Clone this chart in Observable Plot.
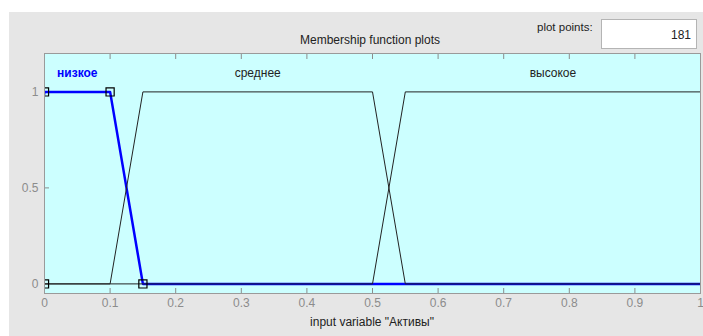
<!DOCTYPE html>
<html><head><meta charset="utf-8">
<script src="https://cdn.jsdelivr.net/npm/d3@7"></script>
<script src="https://cdn.jsdelivr.net/npm/@observablehq/plot@0.6"></script>
<style>
body{margin:0;background:#fff;font-family:"Liberation Sans",Arial,sans-serif;}
#wrap{position:relative;width:703px;height:336px;overflow:hidden;background:#fff;}
#panel{position:absolute;left:9px;top:12px;width:694px;height:324px;background:#e6e6e6;}
#chart{position:absolute;left:0;top:0;}
.t{position:absolute;color:#222;font-size:12px;white-space:nowrap;line-height:1;}
#box{position:absolute;left:601px;top:19px;width:94px;height:28px;background:#fff;border:1px solid #b4b4b4;}
</style></head><body>
<div id="wrap">
  <div id="panel"></div>
  <div id="chart"></div>
  <div class="t" id="title" style="left:370px;top:40px;transform:translate(-50%,-50%);">Membership function plots</div>
  <div class="t" id="pp" style="left:537px;top:28px;transform:translateY(-50%);font-size:11.5px;">plot points:</div>
  <div id="box"><div class="t" id="npts" style="right:5px;top:15px;transform:translateY(-50%);"></div></div>
  <div class="t" id="xlabel" style="left:372px;top:322px;transform:translate(-50%,-50%);"></div>
</div>
<script>
// ---- data ----
const mfNames = ["низкое", "среднее", "высокое"];
const mfA = [-0.05, 0.1, 0.5];
const mfB = [0, 0.15, 0.55];
const mfC = [0.1, 0.5, 1];
const mfD = [0.15, 0.55, 1.05];
const selectedMF = 0;
const xTicks = [0, 0.1, 0.2, 0.3, 0.4, 0.5, 0.6, 0.7, 0.8, 0.9, 1];
const yTicks = [0, 0.5, 1];
const xRange = [0, 1];
const plotPoints = 181;
const varName = "Активы";

document.getElementById("npts").textContent = String(plotPoints);
document.getElementById("xlabel").textContent = `input variable "${varName}"`;

// trapezoid vertex polylines (extended with zero to the range ends)
const lines = [];
const markers = [];
mfNames.forEach((name, i) => {
  const pts = [];
  if (mfA[i] > xRange[0]) pts.push([xRange[0], 0]);
  pts.push([mfA[i], 0], [mfB[i], 1], [mfC[i], 1], [mfD[i], 0]);
  if (mfD[i] < xRange[1]) pts.push([xRange[1], 0]);
  pts.forEach(([x, y]) => lines.push({mf: i, x, y}));
  if (i === selectedMF) {
    [[mfA[i], 0], [mfB[i], 1], [mfC[i], 1], [mfD[i], 0]].forEach(([x, y]) =>
      markers.push({x: Math.max(xRange[0], Math.min(xRange[1], x)), y}));
  }
});
const labels = mfNames.map((name, i) => ({name, i, x: (mfA[i] + mfD[i]) / 2}));

const tickColor = "#8c8c8c";
const chart = Plot.plot({
  width: 703, height: 336,
  marginLeft: 44, marginRight: 3, marginTop: 53, marginBottom: 43,
  x: {domain: xRange},
  y: {domain: [-0.05, 1.2]},
  style: {background: "transparent", fontFamily: "Liberation Sans, Arial, sans-serif", fontSize: "12px"},
  marks: [
    Plot.frame({fill: "#ccffff", stroke: null}),
    Plot.axisX({anchor: "bottom", ticks: xTicks, tickSize: 0, tickPadding: 5, tickFormat: d => String(d), label: null, color: tickColor}),
    Plot.axisX({anchor: "bottom", ticks: xTicks, tickSize: -5, tickFormat: () => "", label: null, stroke: tickColor}),
    Plot.axisX({anchor: "top", ticks: xTicks, tickSize: -5, tickFormat: () => "", label: null, stroke: tickColor}),
    Plot.axisY({anchor: "left", ticks: yTicks, tickSize: 0, tickPadding: 6, tickFormat: d => String(d), label: null, color: tickColor}),
    Plot.axisY({anchor: "left", ticks: yTicks, tickSize: -5, tickFormat: () => "", label: null, stroke: tickColor}),
    Plot.line(lines.filter(d => d.mf === selectedMF), {x: "x", y: "y", stroke: "#0000ff", strokeWidth: 2.5, clip: true}),
    Plot.line(lines.filter(d => d.mf !== selectedMF), {x: "x", y: "y", z: "mf", stroke: "#222", strokeWidth: 1, clip: true}),
    Plot.dot(markers, {x: "x", y: "y", symbol: "square", r: 4.6, stroke: "#000", fill: "none", strokeWidth: 1.2, clip: true}),
    Plot.text(labels.filter(d => d.i === selectedMF), {x: "x", y: 1.1, text: "name", fill: "#0000ff", fontWeight: "bold", fontSize: 12}),
    Plot.text(labels.filter(d => d.i !== selectedMF), {x: "x", y: 1.1, text: "name", fill: "#222", fontSize: 12}),
    Plot.frame({stroke: "#9a9a9a"})
  ]
});
document.getElementById("chart").appendChild(chart);
</script>
</body></html>
